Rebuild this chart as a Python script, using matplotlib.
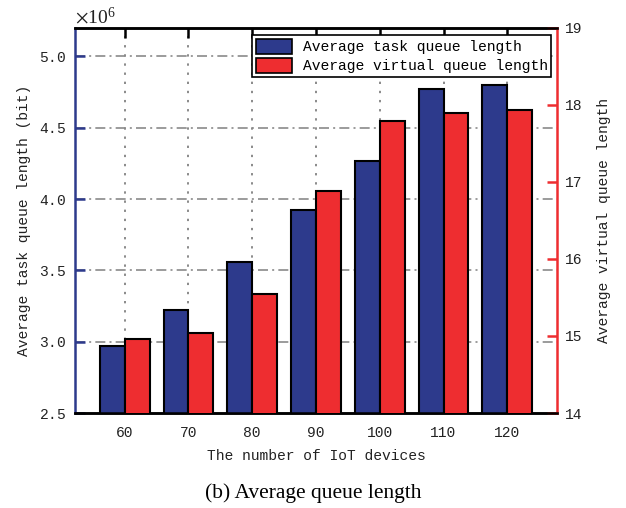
import matplotlib
matplotlib.use("Agg")
import matplotlib.pyplot as plt
from matplotlib.ticker import ScalarFormatter, MultipleLocator
from matplotlib.patches import Patch
import numpy as np

devices = [60, 70, 80, 90, 100, 110, 120]
task_queue = [2.97e6, 3.22e6, 3.56e6, 3.92e6, 4.27e6, 4.77e6, 4.80e6]
virtual_queue = [14.96, 15.04, 15.54, 16.88, 17.79, 17.90, 17.94]

BLUE = "#2D3A8C"
RED = "#EE2D30"
MONO = "Liberation Mono"

plt.rcParams["mathtext.fontset"] = "stix"

fig = plt.figure(figsize=(6.26, 5.08), dpi=100)
ax = fig.add_axes([0.1198, 0.187, 0.77, 0.758])
ax2 = ax.twinx()

x = np.array(devices, dtype=float)
w = 3.9
ax.bar(x - w / 2, task_queue, width=w, color=BLUE, edgecolor="black", linewidth=1.5, zorder=3)
ax2.bar(x + w / 2, virtual_queue, width=w, color=RED, edgecolor="black", linewidth=1.5, zorder=3)

ax.set_xlim(52.2, 127.8)
ax.set_ylim(2.5e6, 5.2e6)
ax2.set_ylim(14, 19)

ax.set_xticks(devices)
ax.yaxis.set_major_locator(MultipleLocator(0.5e6))
fmt = ScalarFormatter(useMathText=True)
fmt.set_powerlimits((6, 6))
ax.yaxis.set_major_formatter(fmt)
ax.yaxis.get_offset_text().set_fontsize(14)
ax.yaxis.get_offset_text().set_family("Liberation Serif")
ax2.set_yticks([14, 15, 16, 17, 18, 19])

# grid: dotted verticals, dash-dot horizontals
for xv in devices:
    ax.axvline(xv, color="#8a8a8a", linestyle=(0, (1.2, 3.5)), linewidth=1.4, zorder=1)
for yv in [3.0e6, 3.5e6, 4.0e6, 4.5e6, 5.0e6]:
    ax.axhline(yv, color="#8a8a8a", linestyle=(0, (6, 2.5, 1.2, 2.5)), linewidth=1.2, zorder=1)

# spines
for a in (ax, ax2):
    for s in a.spines.values():
        s.set_linewidth(1.8)
ax.spines["left"].set_color(BLUE)
ax.spines["right"].set_visible(False)
ax.spines["top"].set_color("black")
ax.spines["bottom"].set_color("black")
ax2.spines["left"].set_visible(False)
ax2.spines["right"].set_color(RED)
ax2.spines["top"].set_color("black")
ax2.spines["bottom"].set_color("black")

ax.tick_params(axis="x", direction="in", top=True, bottom=True, length=7, width=1.8,
               colors="black", labelcolor="#222222", labelsize=10.5, pad=9)
ax.tick_params(axis="y", direction="in", length=7, width=1.8, color=BLUE,
               labelcolor="#222222", labelsize=10.5, pad=6)
ax2.tick_params(axis="y", direction="in", length=7, width=1.8, color=RED,
                labelcolor="#222222", labelsize=10.5, pad=6)
for lab in ax.get_xticklabels() + ax.get_yticklabels() + ax2.get_yticklabels():
    lab.set_family(MONO)

ax.set_xlabel("The number of IoT devices", family=MONO, fontsize=10.5, color="#222222", labelpad=7)
ax.set_ylabel("Average task queue length (bit)", family=MONO, fontsize=10.5, color="#222222", labelpad=6)
ax2.set_ylabel("Average virtual queue length", family=MONO, fontsize=10.5, color="#222222", labelpad=10)

handles = [Patch(facecolor=BLUE, edgecolor="black", linewidth=1.2),
           Patch(facecolor=RED, edgecolor="black", linewidth=1.2)]
leg = ax2.legend(handles, ["Average task queue length", "Average virtual queue length"],
                 loc="upper right", bbox_to_anchor=(0.988, 0.982), fancybox=False,
                 framealpha=1, edgecolor="black", prop={"family": MONO, "size": 10.5},
                 handlelength=2.5, handleheight=1.25, labelspacing=0.25, handletextpad=0.7,
                 borderpad=0.25, borderaxespad=0)
leg.get_frame().set_linewidth(1.2)
leg.set_zorder(10)

fig.text(313 / 626, 0.03, "(b) Average queue length", ha="center", va="center",
         family="Liberation Serif", fontsize=15.5)

fig.savefig("out.png", dpi=100)
